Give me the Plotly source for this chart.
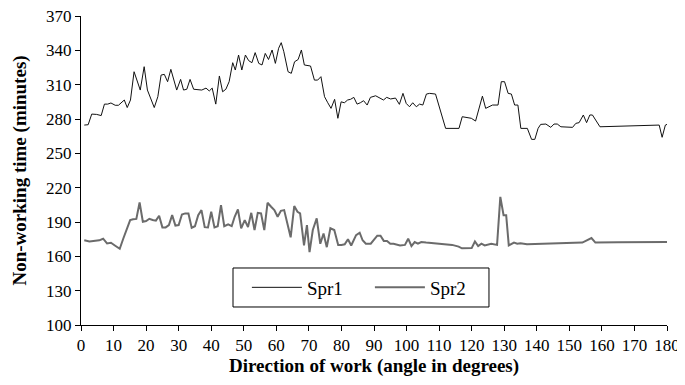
import plotly.graph_objects as go

# Spr1 (upper, thin black line)
spr1_angle = [1, 2.2, 3.3, 4.8, 6.2, 7.2, 8.2, 9.2, 10.5, 11.5, 13.3, 14.2, 15.2, 16.3, 18.2, 19.4,
              20.4, 22.5, 23.6, 24.6, 25.6, 26.6, 27.6, 29.4, 30.6, 31.5, 32.5, 33.5, 34.6, 37.1,
              38.4, 39.4, 40.3, 41.4, 42.5, 43.5, 44.5, 45.5, 46.6, 47.4, 48.4, 49.4, 50.5, 51.5,
              52.5, 53.5, 54.6, 55.6, 56.6, 57.6, 58.7, 59.7, 60.7, 61.5, 62.3, 63.6, 64.6, 65.6,
              66.7, 67.7, 68.6, 70.5, 71.7, 72.7, 73.7, 74.8, 75.8, 76.8, 77.9, 78.9, 79.9, 80.9,
              81.9, 82.8, 83.8, 84.8, 85.8, 86.8, 87.9, 88.9, 90.5, 91.8, 92.9, 93.9, 95.1, 96.6,
              97.8, 98.9, 99.9, 100.9, 101.9, 103, 104, 105, 106.1, 107.1, 108.9, 112, 114, 116.1,
              117.1, 118.1, 119.9, 121.2, 123.3, 124.3, 126.4, 128.1, 129.1, 130.1, 131.2, 132.2,
              133.2, 134.2, 135.1, 137.1, 138.4, 139.4, 140.4, 141.2, 142.8, 144.3, 145.3, 146.3,
              147.4, 151, 152, 153, 154.3, 155.3, 156.3, 157.1, 159.4, 177.6, 178.5, 179.5, 180]
spr1_time = [274.7, 275, 284.3, 284, 283, 293, 293, 294, 292, 292, 296.6, 290, 296.6, 321.3, 305.3, 325.7,
             305.3, 290, 299.5, 318.4, 319, 312.6, 323.4, 305.3, 314.6, 305.3, 306, 314.6, 306, 305.3,
             307, 304.5, 307, 293, 317.6, 303.8, 306, 312.6, 329.2, 322.8, 335.9, 322.8, 335.9, 331,
             329.2, 338, 328.6, 327.2, 337.3, 332, 340.3, 328.6, 341.8, 346.7, 338.8, 321.3, 319.9, 330,
             332, 340.3, 327.2, 326.3, 314, 314, 317, 299.5, 294.2, 289.3, 297.2, 280.6, 295, 294.2,
             296.6, 297.2, 298.9, 293, 294.2, 296, 292.2, 298.9, 300.3, 298.6, 296.6, 298.9, 297.5, 298.3,
             292.8, 302.4, 293.6, 290.7, 294.2, 290.7, 293, 292.2, 301.8, 302.4, 301.8, 271.8, 271.8, 271.8,
             282, 281.5, 280.6, 278.2, 300, 289.3, 292.2, 292.2, 312.6, 312.6, 302.4, 301.8,
             292.2, 292.2, 271.8, 271.8, 262.2, 262.2, 271.8, 275.3, 275.6, 272.7, 275.6, 275.6,
             273.2, 272.7, 276.2, 276.8, 283.5, 276.8, 283.5, 283.5, 273.2, 274.7, 264, 274.7, 275.3]

# Spr2 (lower, thicker grey line)
spr2_angle = [1, 2.6, 5.6, 6.8, 8, 9.2, 10.4, 11.9, 13, 14, 15.1, 16, 17, 18, 19, 20, 21, 22, 23, 24,
              25, 26, 27, 28, 29, 30, 31, 32, 33, 34, 35, 36, 37, 38, 39, 40, 41, 42, 43, 44, 45.2,
              46.3, 47.2, 48.2, 49.2, 50.3, 51.3, 52.3, 53.3, 54.3, 55.3, 56.3, 57.3, 58.4, 59.4,
              60.4, 61.4, 62.4, 63.2, 64.4, 65.5, 66.5, 67.3, 68.5, 69.4, 70.2, 71.2, 72.4, 73.5,
              74.5, 75.5, 76.6, 77.8, 79, 80, 81, 82, 83, 84.5, 85.6, 86.5, 87.5, 89, 91, 92, 93,
              94, 95, 96, 98, 99.5, 100.5, 101.5, 102.5, 103.5, 104.5, 106, 109, 111, 114, 116, 117,
              120, 121, 122, 123, 124, 126, 127.8, 128.8, 129.8, 130.6, 131.4, 132.2, 133, 134, 135,
              137, 141, 148, 154, 156.8, 158, 165, 172, 180]
spr2_time = [174, 173, 174, 175.4, 171.3, 171.9, 169.5, 166.6, 175.6, 183, 191.7, 192.4, 192.7, 207, 190.2,
             190.8, 192.8, 191.7, 191.2, 195.5, 185.3, 185.3, 187.3, 196, 186.9, 187.3, 196.6, 197.5,
             197.5, 185, 186.3, 196, 200.4, 185.5, 185.3, 198.9, 185.3, 186.3, 204.8, 186.3, 188,
             186.4, 194.6, 201, 184.4, 191.7, 185.6, 198, 183, 198, 197.5, 183, 206.8, 203.3, 200.4,
             194.6, 199.8, 200.4, 191.7, 176.6, 203.9, 198.9, 197.5, 169.5, 187.3, 163.7, 183, 193.2, 171,
             180, 168, 184.5, 183, 170, 170, 170.5, 175, 169.5, 178.5, 180.6, 174, 171, 171, 178, 178, 173.5,
             173.5, 171, 171, 169.5, 170, 175.4, 169, 172.5, 171, 172.5, 172, 171, 170.5, 170, 168.5, 167,
             167.2, 173, 169, 171, 169.5, 171, 170, 212, 196, 196, 169.5, 170.5, 172, 171, 171.5,
             170.5, 170.8, 171.5, 172, 176, 172, 172.3, 172.5, 172.5]

x_ticks = list(range(0, 181, 10))
y_ticks = list(range(100, 371, 30))

FONT = "Liberation Serif"

fig = go.Figure()
fig.add_trace(go.Scatter(x=spr1_angle, y=spr1_time, mode="lines", name="Spr1",
                         line=dict(color="#111111", width=1)))
fig.add_trace(go.Scatter(x=spr2_angle, y=spr2_time, mode="lines", name="Spr2",
                         line=dict(color="#6b6b6b", width=2)))

# legend frame drawn as a shape so its size matches the reference box
fig.add_shape(type="rect", xref="paper", yref="paper", x0=0.2594, x1=0.6962, y0=0.0583, y1=0.1845,
              line=dict(color="black", width=1), fillcolor="white", layer="below")

# axis titles as annotations for exact placement
fig.add_annotation(text="<b>Direction of work (angle in degrees)</b>", xref="paper", yref="paper",
                   x=0.5, y=0, xanchor="center", yanchor="top", yshift=-28, showarrow=False,
                   font=dict(family=FONT, size=19))
fig.add_annotation(text="<b>Non-working time (minutes)</b>", xref="paper", yref="paper",
                   x=0, y=0.5, xanchor="center", yanchor="middle", xshift=-62, textangle=-90,
                   showarrow=False, font=dict(family=FONT, size=19))

fig.update_layout(
    width=677, height=377,
    margin=dict(l=73, r=18, t=8, b=60),
    paper_bgcolor="white", plot_bgcolor="white",
    font=dict(family=FONT, size=17, color="black"),
    showlegend=True,
    legend=dict(orientation="h", x=0.493, y=0.1214, xanchor="center", yanchor="middle",
                borderwidth=0, bgcolor="rgba(0,0,0,0)",
                itemwidth=50, font=dict(family=FONT, size=19), entrywidth=58),
)
fig.update_xaxes(range=[0, 180], tickvals=x_ticks, ticks="outside", ticklen=5, tickcolor="black",
                 showline=True, linecolor="black", linewidth=1, showgrid=False, zeroline=False,
                 automargin=False, ticklabeloverflow="allow", tickfont=dict(family=FONT, size=17))
fig.update_yaxes(range=[100, 370], tickvals=y_ticks, ticks="outside", ticklen=5, tickcolor="black",
                 showline=True, linecolor="black", linewidth=1, showgrid=False, zeroline=False,
                 automargin=False, ticklabeloverflow="allow", tickfont=dict(family=FONT, size=17))

fig.write_html("out.html")
